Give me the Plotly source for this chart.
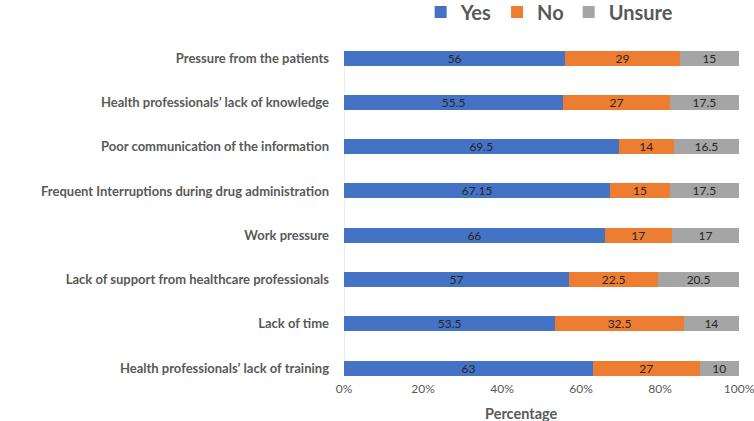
import plotly.graph_objects as go

categories = [
    "Pressure from the patients",
    "Health professionals’ lack of knowledge",
    "Poor communication of the information",
    "Frequent Interruptions during drug administration",
    "Work pressure",
    "Lack of support from healthcare professionals",
    "Lack of time",
    "Health professionals’ lack of training",
]
yes = [56, 55.5, 69.5, 67.15, 66, 57, 53.5, 63]
no = [29, 27, 14, 15, 17, 22.5, 32.5, 27]
unsure = [15, 17.5, 16.5, 17.5, 17, 20.5, 14, 10]
tick_vals = [0, 20, 40, 60, 80, 100]
tick_text = ["0%", "20%", "40%", "60%", "80%", "100%"]
x_title = "Percentage"

series = [("Yes", yes, "#4472C4"), ("No", no, "#ED7D31"), ("Unsure", unsure, "#A5A5A5")]
FONT = "Lato, Carlito, Liberation Sans"
GAP = 0.66

fig = go.Figure()
for name, vals, color in series:
    fig.add_trace(go.Bar(
        y=categories, x=vals, name=name, orientation="h",
        marker=dict(color=color, line=dict(width=0)),
        text=[f"{v:g}" for v in vals], textposition="inside",
        insidetextanchor="middle", textangle=0, constraintext="none",
        textfont=dict(family=FONT, size=12, color="#262626"),
        hoverinfo="skip",
    ))

n = len(categories)
half = (1 - GAP) / 2
fig.add_shape(type="line", xref="x", yref="y", x0=0, x1=0, y0=-half, y1=n - 1 + half,
              line=dict(color="#D9D9D9", width=1), layer="below")

fig.add_annotation(text=x_title, xref="paper", yref="paper", x=0.45, y=-0.096,
                   xanchor="center", yanchor="middle", showarrow=False,
                   font=dict(size=14.5, color="#595959", family=FONT, weight="bold"))

fig.update_layout(
    barmode="stack", barnorm="percent", bargap=GAP,
    width=754, height=421,
    margin=dict(l=344, r=15, t=36, b=41, autoexpand=False),
    plot_bgcolor="white", paper_bgcolor="white",
    showlegend=True,
    legend=dict(orientation="h", x=0.729, xref="container", xanchor="center",
                y=1.07, yref="paper", yanchor="middle",
                font=dict(family=FONT, size=20, color="#595959", weight="bold"),
                traceorder="normal", itemwidth=30),
    font=dict(family=FONT, color="#595959"),
)
fig.update_xaxes(range=[0, 100], tickvals=tick_vals, ticktext=tick_text, showgrid=False,
                 zeroline=False, showline=False, ticks="", automargin=False,
                 ticklabeloverflow="allow",
                 tickfont=dict(size=12, color="#595959", family=FONT))
fig.update_yaxes(categoryorder="array", categoryarray=categories[::-1], range=[-0.27, n - 0.5],
                 showline=False, ticks="", ticklabelstandoff=14, automargin=False, showgrid=False,
                 tickfont=dict(size=13, color="#595959", family=FONT, weight="bold"))

fig.write_html("out.html", config={"displayModeBar": False, "staticPlot": True},
               post_script="document.body.style.margin='0';")
